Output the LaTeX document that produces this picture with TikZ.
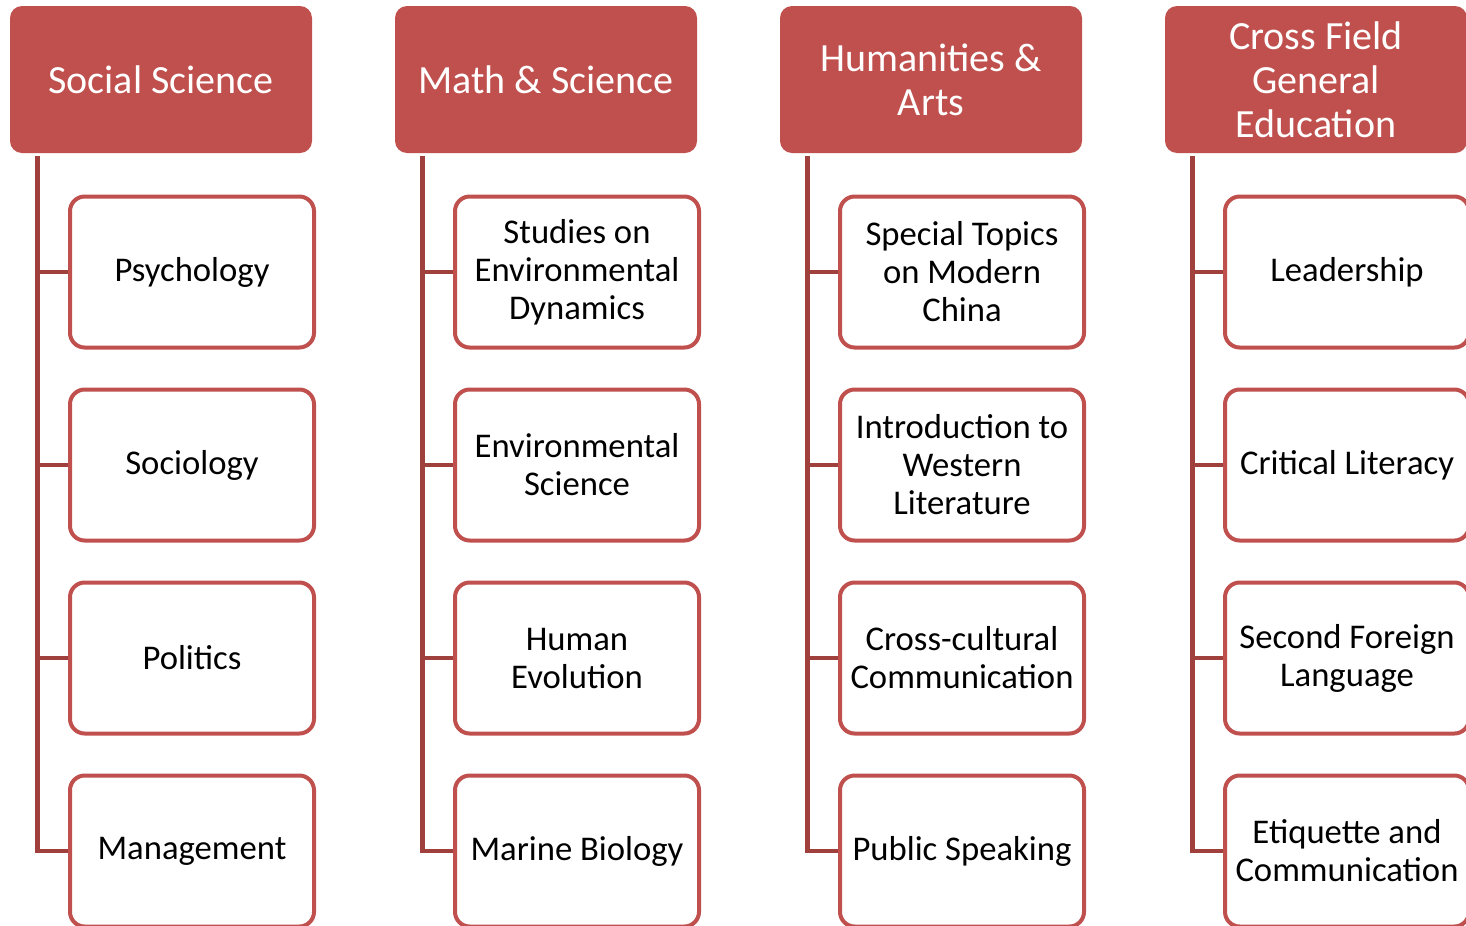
\documentclass[tikz,border=0pt]{standalone}
\usepackage{fontspec}
\setmainfont{Carlito}
\definecolor{hdrred}{HTML}{C0504D}
\definecolor{connred}{HTML}{A0403D}
\tikzset{
  hdr/.style={fill=hdrred, rounded corners=9pt, minimum width=226.5pt, minimum height=110.25pt,
    text=white, align=center, font=\fontsize{30}{33}\selectfont, inner sep=0pt},
  child/.style={draw=hdrred, line width=3pt, fill=white, rounded corners=11pt,
    minimum width=183pt, minimum height=113.25pt, align=center,
    font=\fontsize{26}{28.5}\selectfont, inner sep=0pt},
  conn/.style={draw=connred, line width=3.6pt}
}
\begin{document}
\begin{tikzpicture}[x=0.75pt,y=-0.75pt]
\useasboundingbox (0,0) rectangle (1466,925);
\clip (0,0) rectangle (1466,925);
% column headers
\node[hdr] (h1) at (161,79.5) {Social Science};
\node[hdr] (h2) at (546,79.5) {Math \& Science};
\node[hdr] (h3) at (931,79.5) {Humanities \&\\Arts};
\node[hdr] (h4) at (1316,79.5) {Cross Field\\General\\Education};
% connectors
\foreach \c in {1,2,3,4}{
  \coordinate (l\c) at ([xshift=21pt,yshift=-2pt]h\c.south west);
}
% children
\node[child] (c11) at (192,272) {Psychology};
\node[child] (c12) at (192,465) {Sociology};
\node[child] (c13) at (192,658) {Politics};
\node[child] (c14) at (192,851) {Management};
\node[child] (c21) at (577,272) {Studies on\\Environmental\\Dynamics};
\node[child] (c22) at (577,465) {Environmental\\Science};
\node[child] (c23) at (577,658) {Human\\Evolution};
\node[child] (c24) at (577,851) {Marine Biology};
\node[child] (c31) at (962,272) {Special Topics\\on Modern\\China};
\node[child] (c32) at (962,465) {Introduction to\\Western\\Literature};
\node[child] (c33) at (962,658) {Cross-cultural\\Communication};
\node[child] (c34) at (962,851) {Public Speaking};
\node[child] (c41) at (1347,272) {Leadership};
\node[child] (c42) at (1347,465) {Critical Literacy};
\node[child] (c43) at (1347,658) {Second Foreign\\Language};
\node[child] (c44) at (1347,851) {Etiquette and\\Communication};
\foreach \c in {1,2,3,4}{
  \draw[conn] (l\c) |- (c\c4.west);
  \foreach \r in {1,2,3}{
    \draw[conn] (l\c |- c\c\r.west) -- (c\c\r.west);
  }
}
\end{tikzpicture}
\end{document}
